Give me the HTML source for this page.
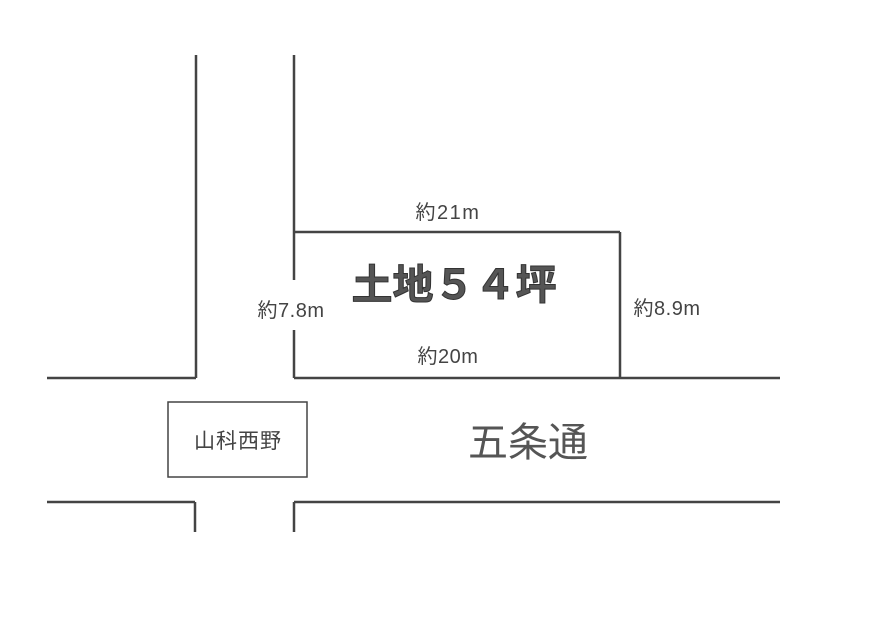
<!DOCTYPE html>
<html><head><meta charset="utf-8"><style>
body{margin:0;background:#fff;width:877px;height:620px;overflow:hidden}
</style></head><body>
<svg width="877" height="620" xmlns="http://www.w3.org/2000/svg" style="font-family:'Liberation Sans','Noto Sans CJK JP',sans-serif">
<g stroke="#444" stroke-width="2.5" fill="none">
<line x1="196" y1="55" x2="196" y2="378"/>
<line x1="294" y1="55" x2="294" y2="280"/>
<line x1="294" y1="330" x2="294" y2="378"/>
<line x1="47" y1="378" x2="196" y2="378"/>
<line x1="294" y1="378" x2="780" y2="378"/>
<line x1="294" y1="232" x2="620" y2="232"/>
<line x1="620" y1="232" x2="620" y2="378"/>
<line x1="47" y1="502" x2="195" y2="502"/>
<line x1="195" y1="502" x2="195" y2="532"/>
<line x1="294" y1="502" x2="780" y2="502"/>
<line x1="294" y1="502" x2="294" y2="532"/>
<rect x="168" y="402" width="139" height="75" stroke-width="1.5"/>
</g>
<g fill="#444">
<text x="448" y="219" font-size="20" letter-spacing="1.5" text-anchor="middle">約21m</text>
<text x="291" y="317" font-size="20" letter-spacing="0.5" text-anchor="middle">約7.8m</text>
<text x="667" y="315" font-size="20" letter-spacing="0.5" text-anchor="middle">約8.9m</text>
<text x="448" y="363" font-size="20" letter-spacing="0.5" text-anchor="middle">約20m</text>
<text x="454" y="299" font-size="41" font-weight="bold" text-anchor="middle" fill="#555" stroke="#333" stroke-width="1">土地５４坪</text>
<text x="238" y="448" font-size="21" letter-spacing="1" text-anchor="middle">山科西野</text>
<text x="528" y="456" font-size="40" text-anchor="middle" fill="#555">五条通</text>
</g>
</svg>
</body></html>
